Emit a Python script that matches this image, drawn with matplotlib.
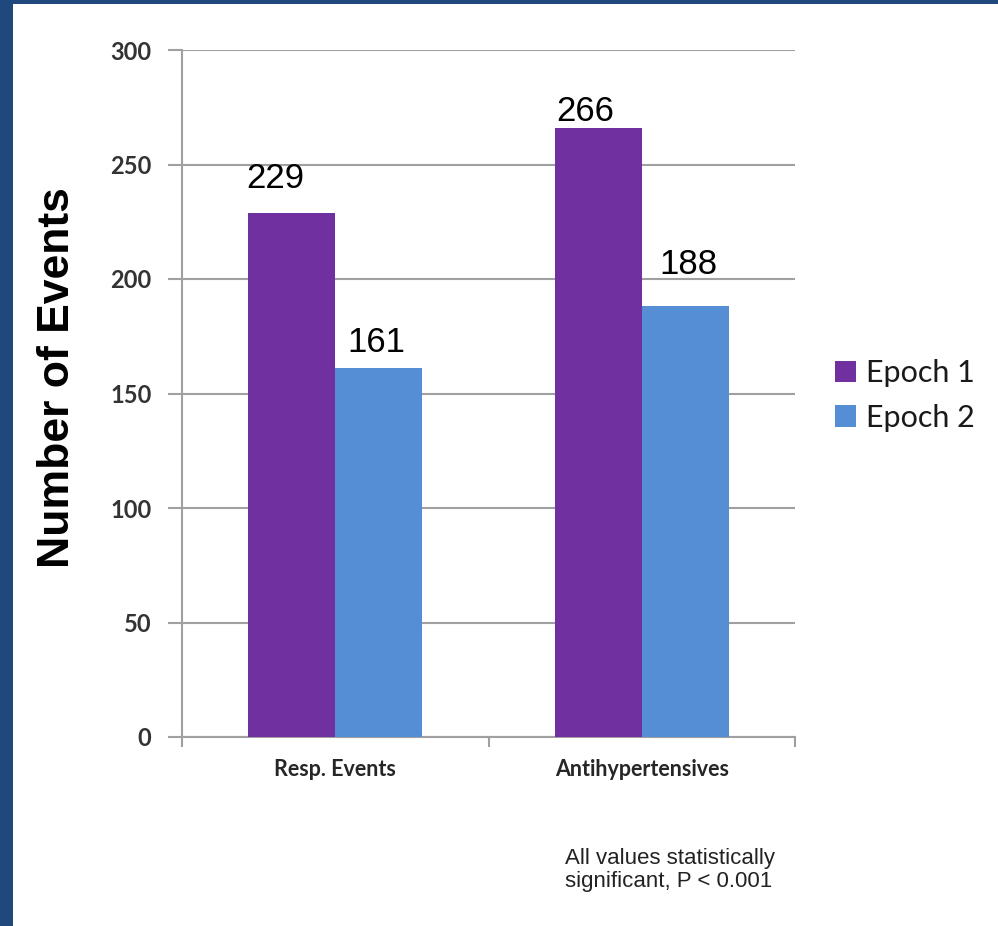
import numpy as np
import matplotlib
matplotlib.use("Agg")
import matplotlib.pyplot as plt
from matplotlib.patches import Rectangle

# --- DATA ---
categories = ["Resp. Events", "Antihypertensives"]
series_names = ["Epoch 1", "Epoch 2"]
epoch1 = [229, 266]
epoch2 = [161, 188]
y_ticks = [0, 50, 100, 150, 200, 250, 300]
footnote = "All values statistically\nsignificant, P < 0.001"

# --- STYLE ---
c_epoch1 = "#7030A0"
c_epoch2 = "#558ED5"
c_grid = "#A0A0A0"
c_border = "#1F497D"
bar_w = 0.284
# per-label nudges (pixels) to mimic the hand-placed labels
label_nudge = [[(-16, 25), (-13, 7)], [(-2, 16), (3, 32)]]

W, H = 998, 926
fig = plt.figure(figsize=(W / 100, H / 100), dpi=100)
fig.patch.set_facecolor("white")

# dark blue slide border (left and top)
fig.add_artist(Rectangle((0, 0), 13 / W, 1, transform=fig.transFigure,
                         color=c_border, lw=0, zorder=10))
fig.add_artist(Rectangle((0, 1 - 4 / H), 1, 4 / H, transform=fig.transFigure,
                         color=c_border, lw=0, zorder=10))

ax = fig.add_axes([182 / W, 1 - 737 / H, (795 - 182) / W, (737 - 50) / H])

x = np.arange(len(categories))
b1 = ax.bar(x - bar_w / 2, epoch1, bar_w, color=c_epoch1, label=series_names[0], zorder=3)
b2 = ax.bar(x + bar_w / 2, epoch2, bar_w, color=c_epoch2, label=series_names[1], zorder=3)

# value labels
for s, bars in enumerate([b1, b2]):
    for i, rect in enumerate(bars):
        dx, dy = label_nudge[s][i]
        ax.annotate(str(int(rect.get_height())),
                    (rect.get_x() + rect.get_width() / 2, rect.get_height()),
                    xytext=(dx, dy), textcoords="offset pixels",
                    ha="center", va="baseline", fontsize=25,
                    family="Liberation Sans", color="black", zorder=5)

ax.set_xlim(-0.5, len(categories) - 0.5)
ax.set_ylim(0, 300)
ax.set_yticks(y_ticks)
ax.yaxis.grid(True, color=c_grid, lw=1.5)
ax.set_axisbelow(True)

for side in ["top", "right"]:
    ax.spines[side].set_visible(False)
for side in ["left", "bottom"]:
    ax.spines[side].set_color(c_grid)
    ax.spines[side].set_linewidth(1.5)

ax.tick_params(axis="y", length=10, width=1.5, color=c_grid, pad=12,
               labelsize=17, labelcolor="#333333")
for t in ax.get_yticklabels():
    t.set_family("Lato")
    t.set_fontweight("bold")

ax.set_xticks(x)
ax.set_xticklabels(categories, family="Lato", fontsize=15.5,
                   fontweight="bold", color="#262626")
ax.set_xticks(np.arange(-0.5, len(categories)), minor=True)
ax.tick_params(axis="x", which="major", length=0, pad=16)
ax.tick_params(axis="x", which="minor", length=7, width=1.5, color=c_grid)

fig.text(58 / W, 1 - 378 / H, "Number of Events", rotation=90,
         ha="center", va="center", fontsize=32, fontweight="bold",
         family="Liberation Sans", color="black")

leg = fig.legend(handles=[b1, b2], loc="upper left",
                 bbox_to_anchor=(835 / W, 1 - 359 / H), frameon=False,
                 prop={"family": "Lato", "size": 22},
                 handlelength=0.7, handleheight=0.7, handletextpad=0.3,
                 labelspacing=0.55, borderaxespad=0, borderpad=0)
for t in leg.get_texts():
    t.set_color("#1a1a1a")

fig.text(565 / W, 1 - 848 / H, footnote, ha="left", va="top",
         fontsize=16, family="Liberation Sans", color="#222222",
         linespacing=1.1)

fig.savefig("out.png", dpi=100, facecolor="white")
